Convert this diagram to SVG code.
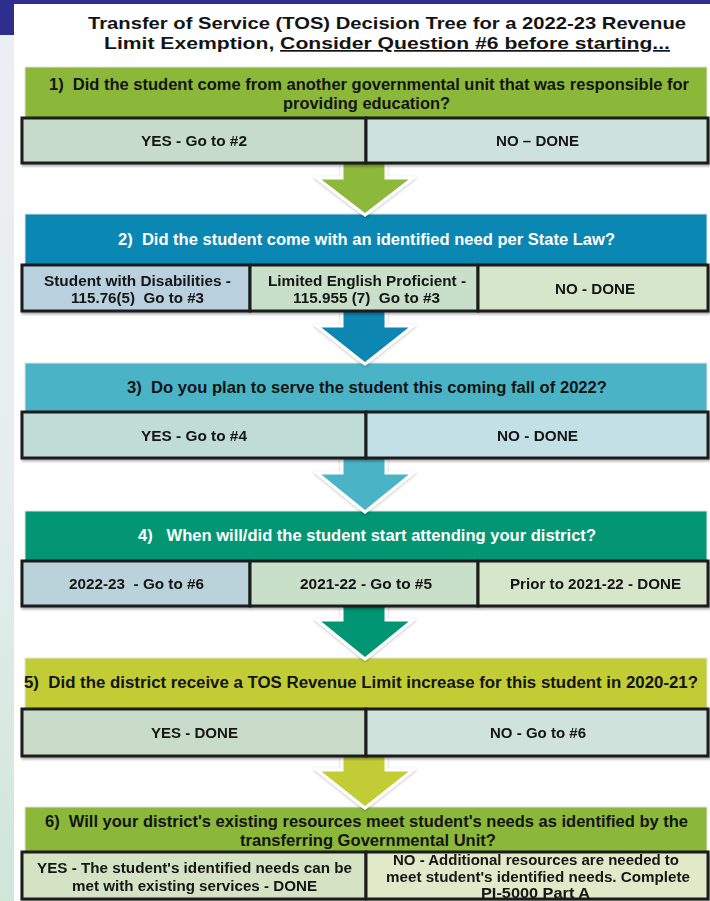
<svg xmlns="http://www.w3.org/2000/svg" width="710" height="901" viewBox="0 0 710 901">
<defs>
<linearGradient id="side" x1="0" y1="0" x2="0" y2="1">
<stop offset="0" stop-color="#eceef3"/>
<stop offset="0.5" stop-color="#e8eef0"/>
<stop offset="1" stop-color="#cfe6d9"/>
</linearGradient>
<filter id="sh" x="-5%" y="-20%" width="110%" height="150%">
<feDropShadow dx="1" dy="2" stdDeviation="1.2" flood-color="#000" flood-opacity="0.3"/>
</filter>
<filter id="ash" x="-20%" y="-20%" width="140%" height="150%">
<feDropShadow dx="0" dy="1" stdDeviation="1.5" flood-color="#000" flood-opacity="0.25"/>
</filter>
</defs>
<style>
.t{font-family:"Liberation Sans",Arial,"DejaVu Sans",sans-serif;font-weight:bold;fill:#141414;white-space:pre}
.title{font-size:17px}
.q{font-size:16px}
.o{font-size:14.5px}
.w{fill:#ffffff}
.hdr{stroke:#e2e2e2;stroke-width:1}
.cell{stroke:#1c1c1c;stroke-width:3}
.arr{stroke:#ffffff;stroke-width:3;stroke-linejoin:miter}
</style>
<rect x="0" y="0" width="710" height="901" fill="#ffffff"/>
<rect x="0" y="0" width="14" height="901" fill="url(#side)"/>
<rect x="0" y="0" width="710" height="4" fill="#2d2e8e"/>
<rect x="0" y="0" width="14" height="35" fill="#2d2e8e"/>

<g id="title">
<text class="t title" x="88" y="29" textLength="598" lengthAdjust="spacingAndGlyphs">Transfer of Service (TOS) Decision Tree for a 2022-23 Revenue</text>
<text class="t title" x="104" y="49" textLength="566" lengthAdjust="spacingAndGlyphs">Limit Exemption, <tspan text-decoration="underline">Consider Question #6 before starting...</tspan></text>
</g>

<g id="q1">
<rect class="hdr" x="25" y="67" width="682" height="51" fill="#8cb83a"/>
<text class="t q" x="49" y="90" textLength="640" lengthAdjust="spacingAndGlyphs">1)  Did the student come from another governmental unit that was responsible for</text>
<text class="t q" x="283" y="109" textLength="167" lengthAdjust="spacingAndGlyphs">providing education?</text>
</g>
<g id="q2">
<rect class="hdr" x="25" y="214" width="682" height="51" fill="#0a87b2"/>
<text class="t q w" x="118" y="245" textLength="497" lengthAdjust="spacingAndGlyphs">2)  Did the student come with an identified need per State Law?</text>
</g>
<g id="q3">
<rect class="hdr" x="25" y="363" width="682" height="49" fill="#4bb3c6"/>
<text class="t q" x="127" y="393" textLength="480" lengthAdjust="spacingAndGlyphs">3)  Do you plan to serve the student this coming fall of 2022?</text>
</g>
<g id="q4">
<rect class="hdr" x="25" y="511" width="682" height="50" fill="#029673"/>
<text class="t q w" x="138" y="541" textLength="458" lengthAdjust="spacingAndGlyphs">4)   When will/did the student start attending your district?</text>
</g>
<g id="q5">
<rect class="hdr" x="25" y="658" width="682" height="51" fill="#c2cd35"/>
<text class="t q" x="24" y="688" textLength="674" lengthAdjust="spacingAndGlyphs">5)  Did the district receive a TOS Revenue Limit increase for this student in 2020-21?</text>
</g>
<g id="q6">
<rect class="hdr" x="25" y="807" width="682" height="45" fill="#8cb83a"/>
<text class="t q" x="45" y="827" textLength="643" lengthAdjust="spacingAndGlyphs">6)  Will your district's existing resources meet student's needs as identified by the</text>
<text class="t q" x="240" y="846" textLength="256" lengthAdjust="spacingAndGlyphs">transferring Governmental Unit?</text>
</g>

<g id="connectors" filter="url(#ash)">
<polygon class="arr" fill="#8cb83a" points="342,158 386,158 386,178 413,178 365,215 317,178 342,178"/>
<polygon class="arr" fill="#0a87b2" points="342,306 386,306 386,326 413,326 365,364 317,326 342,326"/>
<polygon class="arr" fill="#4bb3c6" points="342,453 386,453 386,473 413,473 365,512 317,473 342,473"/>
<polygon class="arr" fill="#029673" points="342,601 386,601 386,620 413,620 365,659 317,620 342,620"/>
<polygon class="arr" fill="#c2cd35" points="342,751 386,751 386,770 413,770 365,808 317,770 342,770"/>
</g>

<g id="a1" filter="url(#sh)">
<rect class="cell" x="22" y="118" width="344" height="45" fill="#c7dbca"/>
<rect class="cell" x="366" y="118" width="342" height="45" fill="#cde2dc"/>
<text class="t o" x="141" y="146" textLength="106" lengthAdjust="spacingAndGlyphs">YES - Go to #2</text>
<text class="t o" x="496" y="146" textLength="83" lengthAdjust="spacingAndGlyphs">NO – DONE</text>
</g>
<g id="a2" filter="url(#sh)">
<rect class="cell" x="22" y="265" width="228" height="46" fill="#b9d1de"/>
<rect class="cell" x="250" y="265" width="228" height="46" fill="#c8dfc9"/>
<rect class="cell" x="478" y="265" width="230" height="46" fill="#d6e6cb"/>
<text class="t o" x="44" y="286" textLength="187" lengthAdjust="spacingAndGlyphs">Student with Disabilities -</text>
<text class="t o" x="71" y="303" textLength="133" lengthAdjust="spacingAndGlyphs">115.76(5)  Go to #3</text>
<text class="t o" x="268" y="286" textLength="198" lengthAdjust="spacingAndGlyphs">Limited English Proficient -</text>
<text class="t o" x="293" y="303" textLength="147" lengthAdjust="spacingAndGlyphs">115.955 (7)  Go to #3</text>
<text class="t o" x="555" y="294" textLength="80" lengthAdjust="spacingAndGlyphs">NO - DONE</text>
</g>
<g id="a3" filter="url(#sh)">
<rect class="cell" x="22" y="412" width="344" height="46" fill="#c0dcd7"/>
<rect class="cell" x="366" y="412" width="342" height="46" fill="#c3e0e6"/>
<text class="t o" x="141" y="441" textLength="106" lengthAdjust="spacingAndGlyphs">YES - Go to #4</text>
<text class="t o" x="497" y="441" textLength="81" lengthAdjust="spacingAndGlyphs">NO - DONE</text>
</g>
<g id="a4" filter="url(#sh)">
<rect class="cell" x="22" y="561" width="228" height="45" fill="#bad3da"/>
<rect class="cell" x="250" y="561" width="228" height="45" fill="#c8dfc9"/>
<rect class="cell" x="478" y="561" width="230" height="45" fill="#d6e6cb"/>
<text class="t o" x="69" y="589" textLength="135" lengthAdjust="spacingAndGlyphs">2022-23  - Go to #6</text>
<text class="t o" x="300" y="589" textLength="132" lengthAdjust="spacingAndGlyphs">2021-22 - Go to #5</text>
<text class="t o" x="510" y="589" textLength="171" lengthAdjust="spacingAndGlyphs">Prior to 2021-22 - DONE</text>
</g>
<g id="a5" filter="url(#sh)">
<rect class="cell" x="22" y="709" width="344" height="47" fill="#c9dcca"/>
<rect class="cell" x="366" y="709" width="342" height="47" fill="#cfe3dc"/>
<text class="t o" x="151" y="738" textLength="87" lengthAdjust="spacingAndGlyphs">YES - DONE</text>
<text class="t o" x="490" y="738" textLength="96" lengthAdjust="spacingAndGlyphs">NO - Go to #6</text>
</g>
<g id="a6" filter="url(#sh)">
<rect class="cell" x="22" y="852" width="344" height="47" fill="#d3e3c4"/>
<rect class="cell" x="366" y="852" width="342" height="47" fill="#e2e9c8"/>
<text class="t o" x="37" y="873" textLength="315" lengthAdjust="spacingAndGlyphs">YES - The student's identified needs can be</text>
<text class="t o" x="72" y="891" textLength="245" lengthAdjust="spacingAndGlyphs">met with existing services - DONE</text>
<text class="t o" x="393" y="865" textLength="286" lengthAdjust="spacingAndGlyphs">NO - Additional resources are needed to</text>
<text class="t o" x="386" y="882" textLength="304" lengthAdjust="spacingAndGlyphs">meet student's identified needs. Complete</text>
<text class="t o" x="481" y="898" textLength="109" lengthAdjust="spacingAndGlyphs">PI-5000 Part A</text>
</g>
</svg>
